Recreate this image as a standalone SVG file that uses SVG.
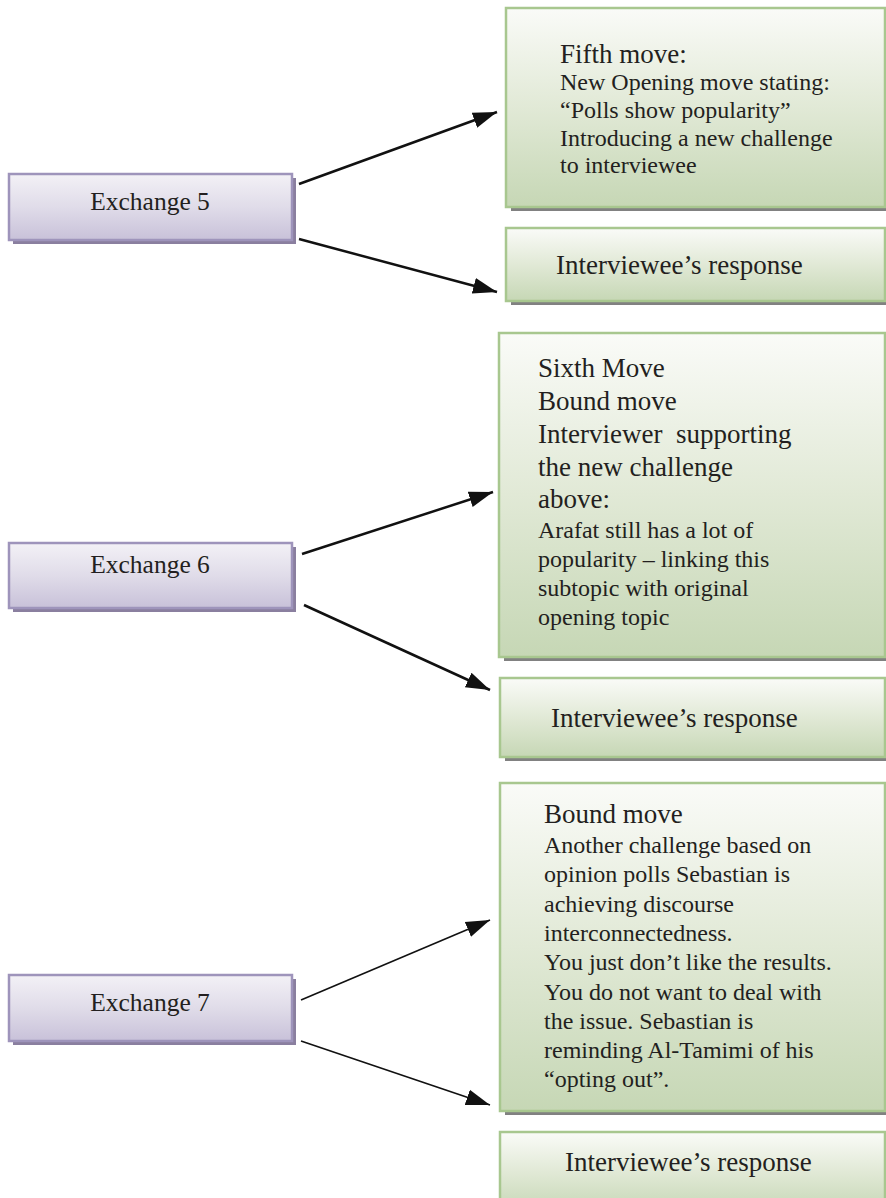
<svg xmlns="http://www.w3.org/2000/svg" width="886" height="1198" viewBox="0 0 886 1198">
  <style>
    .move { fill: url(#greenFill); stroke: #a8c78f; stroke-width: 2.5; }
    .ex { fill: url(#purpleFill); stroke: #9e94bb; stroke-width: 2.5; }
    .shadow { fill: #818181; }
    .exshadow { fill: #8a7f9f; }
    text { font-family: "Liberation Serif", "Times New Roman", serif; fill: #231f20; }
    .big { font-size: 27px; }
    .small { font-size: 24px; }
    .exlabel { font-size: 25.5px; text-anchor: middle; }
    .link { stroke: #111; stroke-width: 2.5; fill: none; marker-end: url(#head); }
    .thin { stroke-width: 1.6; }
  </style>
  <defs>
    <linearGradient id="greenFill" x1="0" y1="0" x2="0" y2="1">
      <stop offset="0" stop-color="#fafbf8"/>
      <stop offset="0.5" stop-color="#e1e9d6"/>
      <stop offset="1" stop-color="#c6d7b5"/>
    </linearGradient>
    <linearGradient id="purpleFill" x1="0" y1="0" x2="0" y2="1">
      <stop offset="0" stop-color="#f3f1f6"/>
      <stop offset="0.5" stop-color="#e0dce9"/>
      <stop offset="1" stop-color="#c8c1d9"/>
    </linearGradient>
    <marker id="head" markerUnits="userSpaceOnUse" markerWidth="26" markerHeight="20" viewBox="0 0 26 20" refX="24" refY="10" orient="auto">
      <path d="M0,2 L24,10 L0,18 Z" fill="#111"/>
    </marker>
  </defs>

  <!-- connectors -->
  <g id="connectors">
    <line class="link" x1="299" y1="184" x2="497" y2="112"/>
    <line class="link" x1="299" y1="239" x2="497" y2="292"/>
    <line class="link" x1="302" y1="554" x2="493" y2="492"/>
    <line class="link" x1="304" y1="605" x2="490" y2="690"/>
    <line class="link thin" x1="301" y1="1000" x2="490" y2="920"/>
    <line class="link thin" x1="301" y1="1041" x2="490" y2="1105"/>
  </g>

  <!-- exchanges -->
  <g id="exchange5">
    <rect class="exshadow" x="13" y="178" width="283" height="66"/>
    <rect class="ex" x="9" y="174" width="283" height="66"/>
    <text class="exlabel" x="150" y="210">Exchange 5</text>
  </g>
  <g id="exchange6">
    <rect class="exshadow" x="13" y="547" width="283" height="65"/>
    <rect class="ex" x="9" y="543" width="283" height="65"/>
    <text class="exlabel" x="150" y="573">Exchange 6</text>
  </g>
  <g id="exchange7">
    <rect class="exshadow" x="13" y="979" width="283" height="66"/>
    <rect class="ex" x="9" y="975" width="283" height="66"/>
    <text class="exlabel" x="150" y="1011">Exchange 7</text>
  </g>

  <!-- moves -->
  <g id="move5">
    <rect class="shadow" x="511" y="12" width="379" height="199"/>
    <rect class="move" x="506" y="8" width="379" height="199"/>
    <text class="big" x="560" y="63">Fifth move:</text>
    <text class="small" x="560" y="90">New Opening move stating:</text>
    <text class="small" x="560" y="118">“Polls show popularity”</text>
    <text class="small" x="560" y="146">Introducing a new challenge</text>
    <text class="small" x="560" y="173">to interviewee</text>
  </g>
  <g id="response5">
    <rect class="shadow" x="511" y="232" width="379" height="73"/>
    <rect class="move" x="506" y="228" width="379" height="73"/>
    <text class="big" x="556" y="274">Interviewee’s response</text>
  </g>
  <g id="move6">
    <rect class="shadow" x="504" y="337" width="386" height="324"/>
    <rect class="move" x="499" y="333" width="386" height="324"/>
    <text class="big" x="538" y="377">Sixth Move</text>
    <text class="big" x="538" y="410">Bound move</text>
    <text class="big" x="538" y="443" xml:space="preserve">Interviewer  supporting</text>
    <text class="big" x="538" y="476">the new challenge</text>
    <text class="big" x="538" y="508">above:</text>
    <text class="small" x="538" y="538">Arafat still has a lot of</text>
    <text class="small" x="538" y="567">popularity – linking this</text>
    <text class="small" x="538" y="596">subtopic with original</text>
    <text class="small" x="538" y="625">opening topic</text>
  </g>
  <g id="response6">
    <rect class="shadow" x="505" y="682" width="385" height="79"/>
    <rect class="move" x="500" y="678" width="385" height="79"/>
    <text class="big" x="551" y="727">Interviewee’s response</text>
  </g>
  <g id="move7">
    <rect class="shadow" x="505" y="787" width="385" height="328"/>
    <rect class="move" x="500" y="783" width="385" height="328"/>
    <text class="big" x="544" y="823">Bound move</text>
    <text class="small" x="544" y="853">Another challenge based on</text>
    <text class="small" x="544" y="882">opinion polls Sebastian is</text>
    <text class="small" x="544" y="912">achieving discourse</text>
    <text class="small" x="544" y="941">interconnectedness.</text>
    <text class="small" x="544" y="970">You just don’t like the results.</text>
    <text class="small" x="544" y="1000">You do not want to deal with</text>
    <text class="small" x="544" y="1029">the issue. Sebastian is</text>
    <text class="small" x="544" y="1058">reminding Al-Tamimi of his</text>
    <text class="small" x="544" y="1087">“opting out”.</text>
  </g>
  <g id="response7">
    <rect class="shadow" x="505" y="1136" width="385" height="80"/>
    <rect class="move" x="500" y="1132" width="385" height="80"/>
    <text class="big" x="565" y="1171">Interviewee’s response</text>
  </g>
</svg>
